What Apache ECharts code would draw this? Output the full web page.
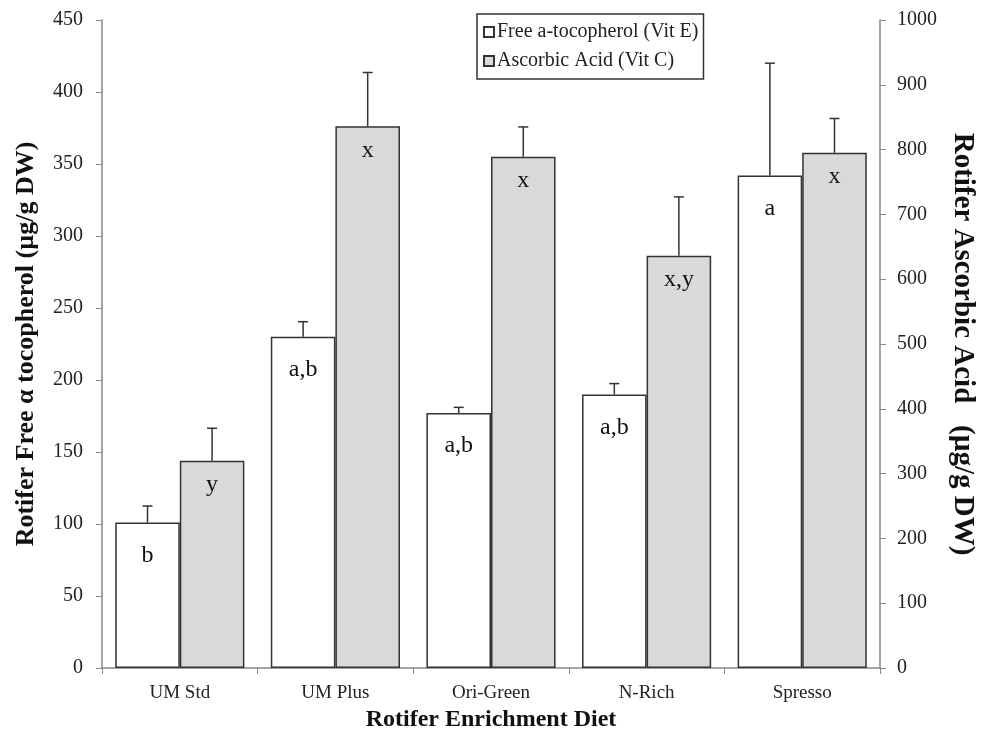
<!DOCTYPE html>
<html>
<head>
<meta charset="utf-8">
<script src="https://cdn.jsdelivr.net/npm/echarts@6/dist/echarts.min.js"></script>
<style>
html,body{margin:0;padding:0;background:#fff;}
#chart{width:981px;height:747px;}
</style>
</head>
<body>
<div id="chart"></div>
<script>
const categories = ['UM Std', 'UM Plus', 'Ori-Green', 'N-Rich', 'Spresso'];
const vitE = [101, 230, 177, 190, 342];
const vitEErr = [11.5, 10.5, 4, 7.5, 78];
const vitELetters = ['b', 'a,b', 'a,b', 'a,b', 'a'];
const vitC = [320, 836, 789, 636, 795];
const vitCErr = [50, 83, 46, 91, 53];
const vitCLetters = ['y', 'x', 'x', 'x,y', 'x'];

const FONT = "'Liberation Serif', 'Times New Roman', serif";
const CAT_GAP = 0.17;

function errRender(side) {
  return function (params, api) {
    const idx = api.value(0);
    const val = api.value(1);
    const err = api.value(2);
    const band = api.size([1, 0])[0];
    const bw = band * (1 - CAT_GAP) / 2;
    const base = api.coord([idx, val]);
    const top = api.coord([idx, val + err]);
    const x = base[0] + side * bw / 2;
    const style = { stroke: '#333', lineWidth: 1.5 };
    return {
      type: 'group',
      children: [
        { type: 'line', shape: { x1: x, y1: base[1], x2: x, y2: top[1] }, style: style },
        { type: 'line', shape: { x1: x - 5, y1: top[1], x2: x + 5, y2: top[1] }, style: style }
      ]
    };
  };
}

const chart = echarts.init(document.getElementById('chart'));
chart.setOption({
  animation: false,
  backgroundColor: '#fff',
  textStyle: { fontFamily: FONT },
  grid: { left: 102, right: 101, top: 20, bottom: 79, containLabel: false, outerBoundsMode: 'none' },
  legend: {
    orient: 'vertical',
    left: 477, top: 14,
    borderColor: '#333', borderWidth: 1.5,
    padding: [8, 5, 8, 6],
    icon: 'rect',
    itemWidth: 10, itemHeight: 10, itemGap: 9,
    textStyle: { fontFamily: FONT, fontSize: 20, color: '#222', padding: [0, 0, 0, -2] },
    data: ['Free a-tocopherol (Vit E)', 'Ascorbic Acid (Vit C)']
  },
  xAxis: {
    type: 'category',
    data: categories,
    axisLine: { lineStyle: { color: '#888', width: 1.5 } },
    axisTick: { show: true, length: 6, lineStyle: { color: '#888' } },
    axisLabel: { fontFamily: FONT, fontSize: 19, color: '#222', margin: 16 },
    name: 'Rotifer Enrichment Diet',
    nameLocation: 'middle',
    nameGap: 39,
    nameTextStyle: { fontFamily: FONT, fontSize: 24, fontWeight: 'bold', color: '#111' }
  },
  yAxis: [
    {
      type: 'value', min: 0, max: 450, interval: 50,
      axisLine: { show: true, lineStyle: { color: '#888', width: 1.5 } },
      axisTick: { show: true, length: 6, lineStyle: { color: '#888' } },
      splitLine: { show: false },
      axisLabel: { fontFamily: FONT, fontSize: 20, color: '#222', margin: 19 },
      name: 'Rotifer Free α tocopherol (µg/g DW)',
      nameLocation: 'middle', nameRotate: 90, nameGap: 63,
      nameTextStyle: { fontFamily: FONT, fontSize: 26, fontWeight: 'bold', color: '#111' }
    },
    {
      type: 'value', min: 0, max: 1000, interval: 100,
      position: 'right',
      axisLine: { show: true, lineStyle: { color: '#888', width: 1.5 } },
      axisTick: { show: true, length: 6, lineStyle: { color: '#888' } },
      splitLine: { show: false },
      axisLabel: { fontFamily: FONT, fontSize: 20, color: '#222', margin: 17, formatter: v => String(v) },
      name: 'Rotifer Ascorbic Acid   (µg/g DW)',
      nameLocation: 'middle', nameRotate: -90, nameGap: 68,
      nameTextStyle: { fontFamily: FONT, fontSize: 29, fontWeight: 'bold', color: '#111' }
    }
  ],
  series: [
    {
      name: 'Free a-tocopherol (Vit E)',
      type: 'bar', yAxisIndex: 0,
      data: vitE,
      barGap: '0%', barCategoryGap: (CAT_GAP * 100) + '%',
      itemStyle: { color: '#fff', borderColor: '#333', borderWidth: 1.5 },
      label: {
        show: true, position: 'insideTop', distance: 21,
        fontFamily: FONT, fontSize: 24, color: '#111',
        formatter: p => vitELetters[p.dataIndex]
      },
      z: 2
    },
    {
      name: 'Ascorbic Acid (Vit C)',
      type: 'bar', yAxisIndex: 1,
      data: vitC,
      barGap: '0%', barCategoryGap: (CAT_GAP * 100) + '%',
      itemStyle: { color: '#d9d9d9', borderColor: '#333', borderWidth: 1.5 },
      label: {
        show: true, position: 'insideTop', distance: 12,
        fontFamily: FONT, fontSize: 24, color: '#111',
        formatter: p => vitCLetters[p.dataIndex]
      },
      z: 2
    },
    {
      type: 'custom', yAxisIndex: 0,
      renderItem: errRender(-1),
      data: vitE.map((v, i) => [i, v, vitEErr[i]]),
      z: 3, silent: true
    },
    {
      type: 'custom', yAxisIndex: 1,
      renderItem: errRender(1),
      data: vitC.map((v, i) => [i, v, vitCErr[i]]),
      z: 3, silent: true
    }
  ]
});
</script>
</body>
</html>
